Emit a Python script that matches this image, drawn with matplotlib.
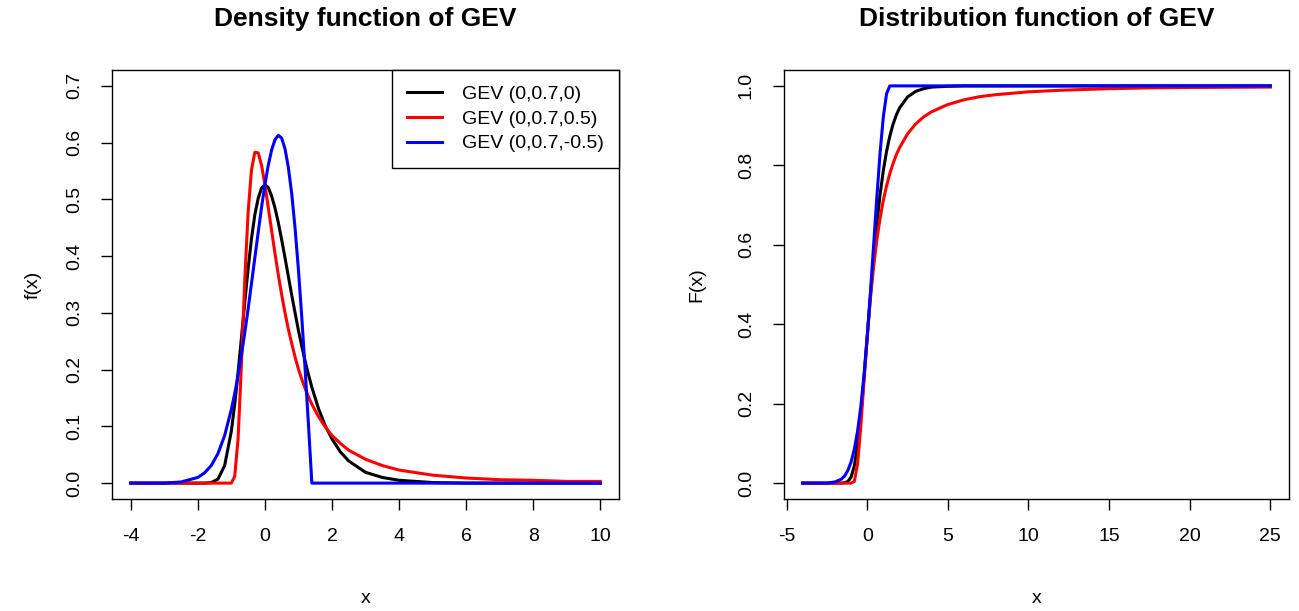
"""GEV density / distribution function, two panels side by side (R base-graphics look)."""
import matplotlib
matplotlib.use("Agg")
import matplotlib.pyplot as plt

plt.rcParams["font.family"] = ["Liberation Sans", "DejaVu Sans"]

# ---- data ----
LABELS = ["GEV (0,0.7,0)", "GEV (0,0.7,0.5)", "GEV (0,0.7,-0.5)"]
COLORS = ["black", "red", "blue"]

# density panel
X_DENS = [-4, -3, -2.5, -2, -1.8, -1.6, -1.4, -1.2, -1.0, -0.9, -0.8, -0.7, -0.6,
          -0.5, -0.4, -0.3, -0.2, -0.1, 0, 0.1, 0.2, 0.3, 0.4, 0.5, 0.6, 0.7, 0.8,
          0.9, 1.0, 1.1, 1.2, 1.3, 1.4, 1.6, 1.8, 2.0, 2.25, 2.5, 3, 3.5, 4, 5, 6,
          7, 8, 9, 10]
DENS_BLACK = [0, 0, 0, 0, 0, 0.001, 0.007, 0.031, 0.092, 0.139, 0.195, 0.256, 0.319,
              0.378, 0.431, 0.473, 0.502, 0.520, 0.526, 0.521, 0.506, 0.485, 0.459,
              0.429, 0.397, 0.364, 0.331, 0.300, 0.269, 0.241, 0.215, 0.191, 0.169,
              0.131, 0.101, 0.078, 0.055, 0.039, 0.019, 0.010, 0.005, 0.001, 0, 0,
              0, 0, 0]
DENS_RED = [0, 0, 0, 0, 0, 0, 0, 0, 0.000, 0.012, 0.078, 0.209, 0.358,
            0.478, 0.552, 0.583, 0.582, 0.560, 0.526, 0.486, 0.445, 0.405, 0.367,
            0.332, 0.300, 0.271, 0.246, 0.222, 0.201, 0.183, 0.167, 0.152, 0.139,
            0.117, 0.099, 0.084, 0.070, 0.058, 0.042, 0.031, 0.023, 0.014, 0.009,
            0.006, 0.005, 0.003, 0.003]
DENS_BLUE = [0, 0.000, 0.002, 0.010, 0.018, 0.031, 0.052, 0.084, 0.130, 0.158, 0.190,
             0.226, 0.265, 0.307, 0.352, 0.397, 0.442, 0.486, 0.526, 0.560, 0.587,
             0.605, 0.613, 0.608, 0.589, 0.556, 0.510, 0.449, 0.376, 0.292, 0.200,
             0.102, 0, 0, 0, 0, 0, 0, 0, 0, 0, 0, 0, 0, 0, 0, 0]

# distribution panel
X_CDF = [-4, -3, -2.5, -2, -1.6, -1.4, -1.2, -1.0, -0.8, -0.6, -0.4, -0.2, 0, 0.2,
         0.4, 0.6, 0.8, 1.0, 1.2, 1.4, 1.6, 1.8, 2.0, 2.5, 3, 3.5, 4, 5, 6, 7, 8,
         10, 12, 15, 17.5, 20, 25]
CDF_BLACK = [0, 0, 0, 0, 0.000, 0.001, 0.004, 0.015, 0.043, 0.095, 0.170, 0.264,
             0.368, 0.472, 0.569, 0.654, 0.727, 0.787, 0.835, 0.873, 0.903, 0.926,
             0.944, 0.972, 0.986, 0.993, 0.997, 0.999, 1.0, 1.0, 1.0, 1.0, 1.0,
             1.0, 1.0, 1.0, 1.0]
CDF_RED = [0, 0, 0, 0, 0, 0, 0, 0.000, 0.004, 0.047, 0.141, 0.256, 0.368, 0.465,
           0.546, 0.613, 0.667, 0.712, 0.748, 0.779, 0.804, 0.826, 0.844, 0.879,
           0.904, 0.922, 0.935, 0.953, 0.965, 0.973, 0.978, 0.985, 0.989, 0.993,
           0.995, 0.996, 0.997]
CDF_BLUE = [0, 0.000, 0.000, 0.003, 0.010, 0.018, 0.032, 0.053, 0.085, 0.130, 0.191,
            0.271, 0.368, 0.480, 0.600, 0.721, 0.832, 0.922, 0.980, 1.0, 1.0, 1.0,
            1.0, 1.0, 1.0, 1.0, 1.0, 1.0, 1.0, 1.0, 1.0, 1.0, 1.0, 1.0, 1.0, 1.0, 1.0]

DENS_XTICKS = [-4, -2, 0, 2, 4, 6, 8, 10]
DENS_YTICKS = [0.0, 0.1, 0.2, 0.3, 0.4, 0.5, 0.6, 0.7]
CDF_XTICKS = [-5, 0, 5, 10, 15, 20, 25]
CDF_YTICKS = [0.0, 0.2, 0.4, 0.6, 0.8, 1.0]

TICK_FS = 14
LW = 2.2


def r_style(ax, xlim, ylim, xticks, yticks):
    """R base graphics: box, outward ticks, vertical y labels."""
    ax.set_xlim(*xlim)
    ax.set_ylim(*ylim)
    ax.set_xticks(xticks, [f"{t:g}" for t in xticks])
    ax.set_yticks(yticks, [f"{t:.1f}" for t in yticks])
    for s in ax.spines.values():
        s.set_linewidth(1.0)
    ax.tick_params(axis="both", direction="out", length=8, width=1,
                   labelsize=TICK_FS)
    ax.tick_params(axis="x", pad=13)
    ax.tick_params(axis="y", pad=13, labelrotation=90)
    for lab in ax.get_yticklabels():
        lab.set_va("center")


def pad(lo, hi):
    d = (hi - lo) * 0.04
    return lo - d, hi + d


fig = plt.figure(figsize=(12.99, 6.11), dpi=100)
ax1 = fig.add_axes([112 / 1299, 1 - 499 / 611, 507 / 1299, 429 / 611])
ax2 = fig.add_axes([784 / 1299, 1 - 499 / 611, 505 / 1299, 429 / 611])

# left: density
for ys, c, lab in zip([DENS_BLACK, DENS_RED, DENS_BLUE], COLORS, LABELS):
    ax1.plot(X_DENS, ys, color=c, lw=LW, label=lab)
r_style(ax1, pad(-4, 10), pad(0, 0.7), DENS_XTICKS, DENS_YTICKS)
leg = ax1.legend(loc="upper right", bbox_to_anchor=(1, 1), borderaxespad=0,
                 fancybox=False, framealpha=1, edgecolor="black", fontsize=14,
                 handlelength=1.8, handletextpad=1.0, labelspacing=0.36,
                 borderpad=0.8)
leg.get_frame().set_linewidth(1.0)

# right: distribution
for ys, c in zip([CDF_BLACK, CDF_RED, CDF_BLUE], COLORS):
    ax2.plot(X_CDF, ys, color=c, lw=LW)
r_style(ax2, pad(-4, 25), pad(0, 1), CDF_XTICKS, CDF_YTICKS)

# titles and axis labels
for ax, title, ylab, ylx in [(ax1, "Density function of GEV", "f(x)", -0.156),
                             (ax2, "Distribution function of GEV", "F(x)", -0.172)]:
    ax.text(0.5, 1.12, title, transform=ax.transAxes, ha="center", va="center",
            fontsize=19, fontweight="bold")
    ax.text(0.5, -0.231, "x", transform=ax.transAxes, ha="center", va="center",
            fontsize=14)
    ax.text(ylx, 0.5, ylab, transform=ax.transAxes, ha="center", va="center",
            fontsize=14, rotation=90)

fig.savefig("out.png", dpi=100, facecolor="white")
